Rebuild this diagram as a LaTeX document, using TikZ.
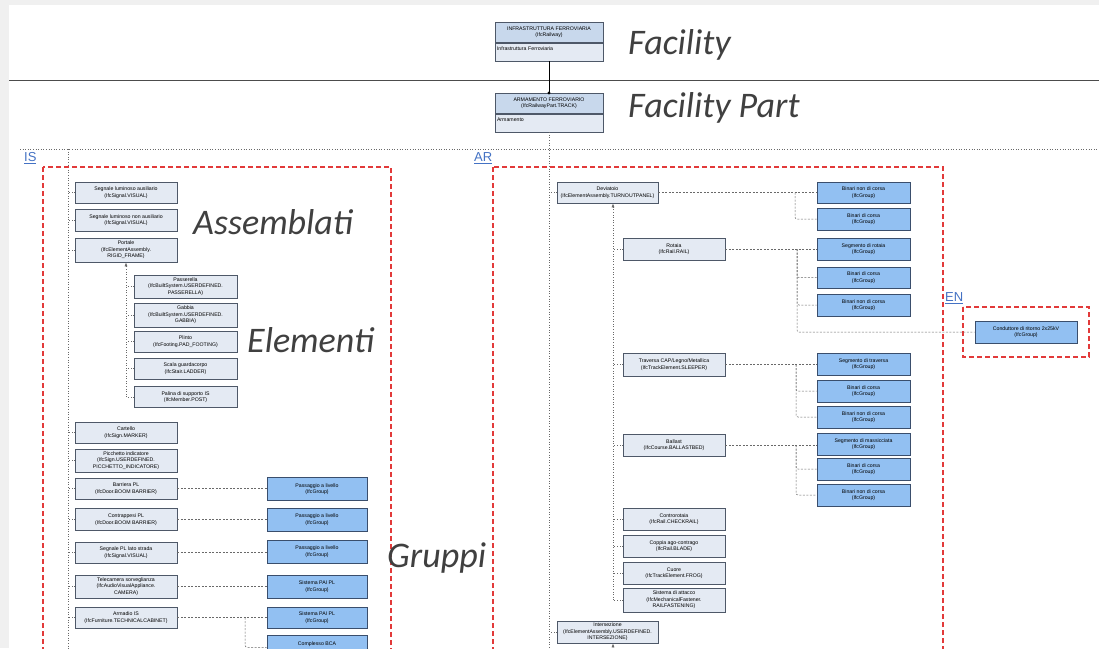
\documentclass[tikz,border=0pt]{standalone}
\usepackage{fontspec}
\setmainfont{Liberation Sans}
\newfontfamily\calfont{Carlito}
\usetikzlibrary{arrows.meta,shadows}

\definecolor{elemfill}{RGB}{228,234,243}
\definecolor{elemdraw}{RGB}{78,88,104}
\definecolor{grpfill}{RGB}{146,192,242}
\definecolor{grpdraw}{RGB}{58,78,108}
\definecolor{headfill}{RGB}{200,216,236}
\definecolor{zonered}{HTML}{E23A3A}
\definecolor{zoneblue}{RGB}{68,114,196}
\definecolor{conn}{RGB}{105,105,105}
\definecolor{lbltext}{RGB}{64,64,64}

\begin{document}
\begin{tikzpicture}[
    x=1pt, y=-1pt,
    tiny/.style={font=\fontsize{5.2}{6.4}\selectfont},
    elem/.style={rectangle, draw=elemdraw, fill=elemfill, line width=0.6pt, align=center, tiny, inner sep=0.5pt,
        drop shadow={opacity=0.25, shadow xshift=0.8pt, shadow yshift=-0.8pt}},
    grp/.style={elem, draw=grpdraw, fill=grpfill},
    head/.style={elem, fill=headfill, minimum width=108, minimum height=20},
    body/.style={elem, minimum width=108, minimum height=18, text width=104pt, align=left},
    link/.style={draw=conn, line width=0.5pt, dash pattern=on 2pt off 1.5pt, rounded corners=2pt},
    tree/.style={draw=conn, line width=0.6pt, dotted},
    zone/.style={color=zonered, line width=1.1pt, dash pattern=on 5pt off 3pt},
    zonelabel/.style={text=zoneblue, font=\fontsize{13}{13}\selectfont, inner sep=0pt},
    biglabel/.style={text=lbltext, font=\calfont\itshape\fontsize{36}{36}\selectfont, inner sep=0pt, anchor=west}
]
    \useasboundingbox (0,0) rectangle (1099,648);
    \fill[black!6] (0,0) rectangle (1099,648);
    \fill[white] (9,5) rectangle (1099,648);

    % Facility / Facility Part
    \draw[black!70, line width=0.8pt] (9,80) -- (1099,80);
    \node[head, anchor=north] (infra) at (549,22) {INFRASTRUTTURA FERROVIARIA\\(IfcRailway)};
    \node[body, anchor=north] (infrab) at (infra.south) {Infrastruttura Ferroviaria\\\mbox{}};
    \node[head, anchor=north] (arm) at (549,93) {ARMAMENTO FERROVIARIO\\(IfcRailwayPart.TRACK)};
    \node[body, anchor=north] (armb) at (arm.south) {Armamento\\\mbox{}};
    \draw[black, line width=0.6pt] (infrab.south) -- (arm.north);
    \fill (arm.north) circle (1.6);

    % buses
    \coordinate (isbus) at (68,149);
    \coordinate (arbus) at (549,149);
    \coordinate (isplus) at (126,149);
    \coordinate (arplus) at (613,149);
    \draw[tree] (armb.south) -- (arbus) -- (549,660);
    \draw[tree] (20,149) -- (1099,149);
    \draw[tree] (isbus) -- (68,660);

    % zones
    \draw[zone] (43,167) rectangle (391,660);
    \draw[zone] (493,167) rectangle (943,660);
    \draw[zone] (963,307) rectangle (1089,357);
    \node[zonelabel, anchor=west] (islbl) at (24,158) {\underline{IS}};
    \node[zonelabel, anchor=west] (arlbl) at (474,158) {\underline{AR}};
    \node[zonelabel, anchor=west] (enlbl) at (945,298) {\underline{EN}};

    % IS - Assemblati ed elementi
    \node[elem, minimum width=102, minimum height=21] (segaus) at (126,192.5) {Segnale luminoso ausiliario\\(IfcSignal.VISUAL)};
    \node[elem, minimum width=102, minimum height=22] (segnon) at (126,220) {Segnale luminoso non ausiliario\\(IfcSignal.VISUAL)};
    \node[elem, minimum width=102, minimum height=24] (portale) at (126,250) {Portale\\(IfcElementAssembly.\\RIGID\_FRAME)};
    \node[elem, minimum width=103, minimum height=23] (passer) at (185.5,286.5) {Passerella\\(IfcBuiltSystem.USERDEFINED.\\PASSERELLA)};
    \node[elem, minimum width=103, minimum height=24] (gabbia) at (185.5,315) {Gabbia\\(IfcBuiltSystem.USERDEFINED.\\GABBIA)};
    \node[elem, minimum width=103, minimum height=21] (plinto) at (185.5,341.5) {Plinto\\(IfcFooting.PAD\_FOOTING)};
    \node[elem, minimum width=103, minimum height=21] (scala) at (185.5,368.5) {Scala guardacorpo\\(IfcStair.LADDER)};
    \node[elem, minimum width=103, minimum height=21] (palina) at (185.5,397) {Palina di supporto IS\\(IfcMember.POST)};
    \node[elem, minimum width=102, minimum height=21] (cartello) at (126,432.5) {Cartello\\(IfcSign.MARKER)};
    \node[elem, minimum width=102, minimum height=23] (picchetto) at (126,460.5) {Picchetto indicatore\\(IfcSign.USERDEFINED.\\PICCHETTO\_INDICATORE)};
    \node[elem, minimum width=102, minimum height=21] (barriera) at (126,488.5) {Barriera PL\\(IfcDoor.BOOM BARRIER)};
    \node[elem, minimum width=102, minimum height=22] (contrap) at (126,519.5) {Contrappesi PL\\(IfcDoor.BOOM BARRIER)};
    \node[elem, minimum width=102, minimum height=21] (segpl) at (126,552.5) {Segnale PL lato strada\\(IfcSignal.VISUAL)};
    \node[elem, minimum width=102, minimum height=23] (telecam) at (126,586.5) {Telecamera sorveglianza\\(IfcAudioVisualAppliance.\\CAMERA)};
    \node[elem, minimum width=102, minimum height=21] (armadio) at (126,617.5) {Armadio IS\\(IfcFurniture.TECHNICALCABINET)};

    % IS - Gruppi
    \node[grp, minimum width=100, minimum height=23] (pl1) at (317,489) {Passaggio a livello\\(IfcGroup)};
    \node[grp, minimum width=100, minimum height=23] (pl2) at (317,519.5) {Passaggio a livello\\(IfcGroup)};
    \node[grp, minimum width=100, minimum height=23] (pl3) at (317,551.5) {Passaggio a livello\\(IfcGroup)};
    \node[grp, minimum width=100, minimum height=23] (pai1) at (317,586.5) {Sistema PAI PL\\(IfcGroup)};
    \node[grp, minimum width=100, minimum height=21] (pai2) at (317,617.5) {Sistema PAI PL\\(IfcGroup)};
    \node[grp, minimum width=100, minimum height=24, anchor=north] (bca) at (317,635) {Complesso BCA\\\mbox{}};

    \foreach \n in {segaus,segnon,portale,cartello,picchetto,barriera,contrap,segpl,telecam,armadio}
        \draw[tree] (\n.west) -- (\n.west -| isbus);
    \foreach \n in {passer,gabbia,plinto,scala,palina}
        \draw[tree] (\n.west) -- (\n.west -| isplus);
    \draw[tree, -{Latex[length=4pt,width=3pt]}] (palina.west -| isplus) -- (portale.south -| isplus);
    \draw[link] (barriera.east) -- (barriera.east -| pl1.west);
    \draw[link] (contrap.east) -- (contrap.east -| pl2.west);
    \draw[link] (segpl.east) -- (segpl.east -| pl3.west);
    \draw[link] (telecam.east) -- (telecam.east -| pai1.west);
    \draw[link] (armadio.east) -- (armadio.east -| pai2.west);
    \draw[link] (245,617.5) |- (bca.west);

    % AR - Assemblati ed elementi
    \node[elem, minimum width=101, minimum height=21] (deviat) at (607.5,192.5) {Deviatoio\\(IfcElementAssembly.TURNOUTPANEL)};
    \node[elem, minimum width=102, minimum height=22] (rotaia) at (674,249) {Rotaia\\(IfcRail.RAIL)};
    \node[elem, minimum width=102, minimum height=23] (traversa) at (674,364.5) {Traversa CAP/Legno/Metallica\\(IfcTrackElement.SLEEPER)};
    \node[elem, minimum width=102, minimum height=22] (ballast) at (674,445) {Ballast\\(IfcCourse.BALLASTBED)};
    \node[elem, minimum width=102, minimum height=22] (controrot) at (674,519) {Controrotaia\\(IfcRail.CHECKRAIL)};
    \node[elem, minimum width=102, minimum height=22] (coppia) at (674,546) {Coppia ago-contrago\\(IfcRail.BLADE)};
    \node[elem, minimum width=102, minimum height=22] (cuore) at (674,573) {Cuore\\(IfcTrackElement.FROG)};
    \node[elem, minimum width=102, minimum height=24] (attacco) at (674,600) {Sistema di attacco\\(IfcMechanicalFastener.\\RAILFASTENING)};
    \node[elem, minimum width=101, minimum height=22] (intersez) at (607.5,632) {Intersezione\\(IfcElementAssembly.USERDEFINED.\\INTERSEZIONE)};

    % AR - Gruppi
    \node[grp, minimum width=93, minimum height=21] (dg1) at (863.5,192.5) {Binari non di corsa\\(IfcGroup)};
    \node[grp, minimum width=93, minimum height=22] (dg2) at (863.5,219) {Binari di corsa\\(IfcGroup)};
    \node[grp, minimum width=93, minimum height=22] (rg1) at (863.5,249) {Segmento di rotaia\\(IfcGroup)};
    \node[grp, minimum width=93, minimum height=21] (rg2) at (863.5,277.5) {Binari di corsa\\(IfcGroup)};
    \node[grp, minimum width=93, minimum height=22] (rg3) at (863.5,305) {Binari non di corsa\\(IfcGroup)};
    \node[grp, minimum width=93, minimum height=22] (tg1) at (863.5,364) {Segmento di traversa\\(IfcGroup)};
    \node[grp, minimum width=93, minimum height=22] (tg2) at (863.5,391) {Binari di corsa\\(IfcGroup)};
    \node[grp, minimum width=93, minimum height=22] (tg3) at (863.5,417) {Binari non di corsa\\(IfcGroup)};
    \node[grp, minimum width=93, minimum height=22] (bg1) at (863.5,444) {Segmento di massicciata\\(IfcGroup)};
    \node[grp, minimum width=93, minimum height=22] (bg2) at (863.5,469) {Binari di corsa\\(IfcGroup)};
    \node[grp, minimum width=93, minimum height=22] (bg3) at (863.5,495) {Binari non di corsa\\(IfcGroup)};

    % EN
    \node[grp, minimum width=102, minimum height=22] (ritorno) at (1026,332) {Conduttore di ritorno 2x25kV\\(IfcGroup)};

    \draw[tree] (deviat.west) -- (deviat.west -| arbus);
    \draw[tree] (intersez.west) -- (intersez.west -| arbus);
    \foreach \n in {rotaia,traversa,ballast,controrot,coppia,cuore,attacco}
        \draw[tree] (\n.west) -- (\n.west -| arplus);
    \draw[tree, -{Latex[length=4pt,width=3pt]}] (attacco.west -| arplus) -- (deviat.south -| arplus);
    \draw[tree, -{Latex[length=4pt,width=3pt]}] (613,660) -- (intersez.south -| arplus);

    \draw[link] (deviat.east) -- (dg1.west);
    \draw[link] (795,192.5) |- (dg2.west);
    \draw[link] (rotaia.east) -- (rg1.west);
    \foreach \n in {rg2,rg3,ritorno}
        \draw[link] (797,249) |- (\n.west);
    \draw[link] (traversa.east) -- (traversa.east -| tg1.west);
    \foreach \n in {tg2,tg3}
        \draw[link] (796,364.5) |- (\n.west);
    \draw[link] (ballast.east) -- (ballast.east -| bg1.west);
    \foreach \n in {bg2,bg3}
        \draw[link] (796,445) |- (\n.west);

    % livelli
    \node[biglabel] (lfac) at (628,45) {Facility};
    \node[biglabel] (lpart) at (628,108) {Facility Part};
    \node[biglabel] (lass) at (193,222) {Assemblati};
    \node[biglabel] (lele) at (247,340) {Elementi};
    \node[biglabel] (lgru) at (387,558) {Gruppi};
\end{tikzpicture}
\end{document}
